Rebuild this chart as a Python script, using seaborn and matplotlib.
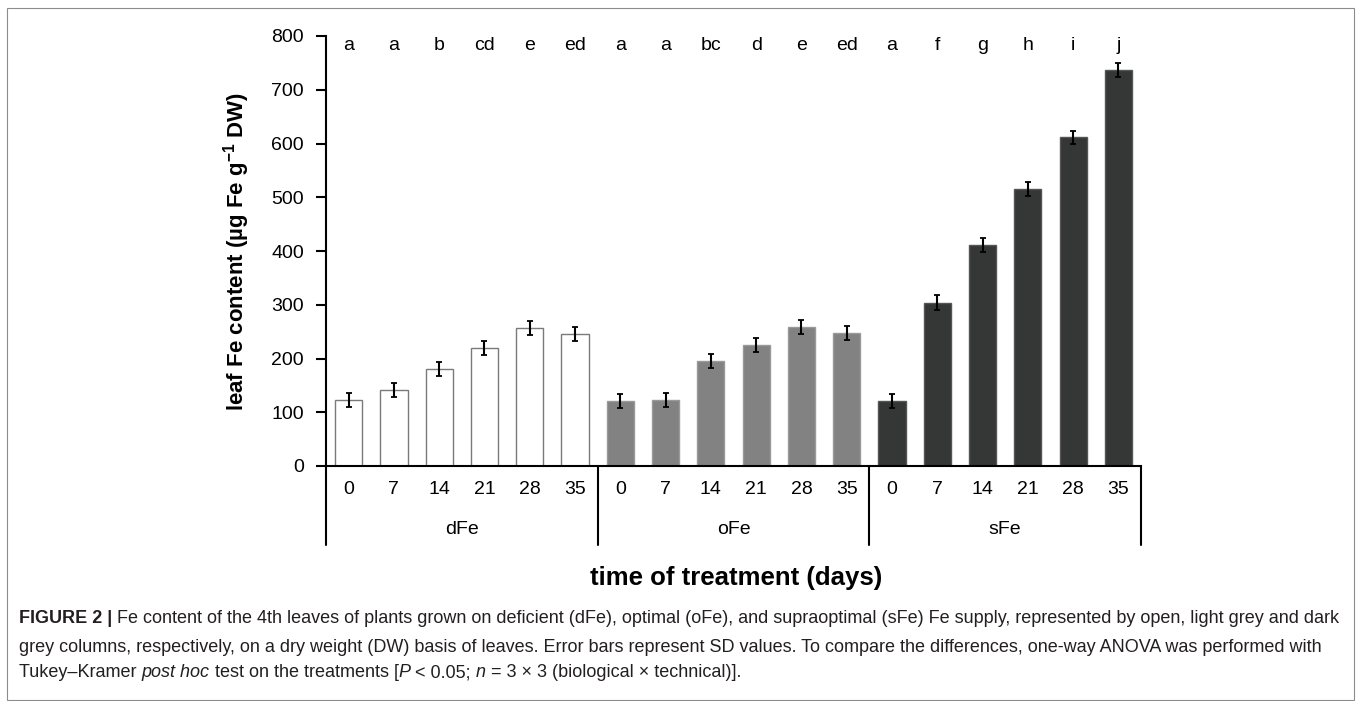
import matplotlib
matplotlib.use('Agg')
import matplotlib.pyplot as plt
import matplotlib.transforms as mtransforms
from matplotlib import font_manager
from matplotlib.patches import Rectangle
import pandas as pd
import seaborn as sns

# Data
supplies = ['dFe', 'oFe', 'sFe']
days = ['0', '7', '14', '21', '28', '35']
dfe_values = [122, 141, 180, 219, 257, 245]
ofe_values = [121, 122, 195, 226, 258, 247]
sfe_values = [121, 304, 412, 516, 612, 737]
dfe_sd = [13, 13, 13, 13, 13, 13]
ofe_sd = [13, 13, 13, 13, 13, 13]
sfe_sd = [13, 14, 13, 13, 12, 13]
letters = ['a', 'a', 'b', 'cd', 'e', 'ed',
           'a', 'a', 'bc', 'd', 'e', 'ed',
           'a', 'f', 'g', 'h', 'i', 'j']

bar_colors = {'dFe': 'white', 'oFe': '#828282', 'sFe': '#343736'}
edge_colors = {'dFe': '#7a7a7a', 'oFe': '#9a9a9a', 'sFe': '#555555'}

df = pd.DataFrame({
    'supply': [s for s in supplies for _ in days],
    'day': days * 3,
    'value': dfe_values + ofe_values + sfe_values,
    'sd': dfe_sd + ofe_sd + sfe_sd,
})
df['bar'] = df['supply'] + '-' + df['day']

sns.set_style('ticks')
plt.rcParams['font.family'] = ['Liberation Sans', 'DejaVu Sans']
plt.rcParams['mathtext.fontset'] = 'custom'
plt.rcParams['mathtext.rm'] = 'Liberation Sans'
plt.rcParams['mathtext.bf'] = 'Liberation Sans:bold'
plt.rcParams['mathtext.it'] = 'Liberation Sans:italic'
for key in ['text.color', 'axes.labelcolor', 'xtick.color', 'ytick.color', 'axes.edgecolor']:
    plt.rcParams[key] = 'black'

W, H = 1358, 701
fig = plt.figure(figsize=(W / 100, H / 100), dpi=100)
ax = fig.add_axes([326 / W, 1 - 466 / H, 815 / W, 430 / H])

sns.barplot(data=df, x='bar', y='value', hue='supply', order=list(df['bar']),
            palette=bar_colors, dodge=False, width=0.6, saturation=1,
            errorbar=None, legend=False, ax=ax)
for patch in ax.patches:
    fc = matplotlib.colors.to_hex(patch.get_facecolor())
    for s, c in bar_colors.items():
        if matplotlib.colors.to_hex(c) == fc:
            patch.set_edgecolor(edge_colors[s])
            patch.set_linewidth(1.0)

x = range(len(df))
ax.errorbar(x, df['value'], yerr=df['sd'], fmt='none', ecolor='black',
            elinewidth=1.5, capsize=2.5, capthick=1.3, zorder=5)

for i, lab in enumerate(letters):
    ax.text(i, 774, lab, ha='center', va='baseline', fontsize=14)

ax.set_xlim(-0.5, len(df) - 0.5)
ax.set_ylim(0, 800)
ax.set_yticks(range(0, 801, 100))
ax.set_xticks(list(x))
ax.set_xticklabels(df['day'])
ax.tick_params(axis='x', length=0, pad=11, labelsize=14)
ax.tick_params(axis='y', length=7, width=1.5, pad=9, labelsize=14, direction='out')
ax.set_xlabel('')
ax.set_ylabel(r'leaf Fe content (µg Fe g$^{\mathbf{-1}}$ DW)', fontsize=16,
              fontweight='bold', labelpad=14)
for side in ['top', 'right']:
    ax.spines[side].set_visible(False)
ax.spines['left'].set_linewidth(1.5)
ax.spines['bottom'].set_linewidth(1.5)

# group separators and group names below the axis
trans = mtransforms.blended_transform_factory(ax.transData, ax.transAxes)
low = -(545 - 466) / 430
for k in range(len(supplies) + 1):
    xs = k * len(days) - 0.5
    ax.plot([xs, xs], [0, low], color='black', lw=1.5, transform=trans, clip_on=False)
for k, s in enumerate(supplies):
    ax.text(k * len(days) + 2.5, -(529 - 466) / 430, s, transform=trans,
            ha='center', va='center', fontsize=14)

fig.text(736 / W, 1 - 578 / H, 'time of treatment (days)', ha='center', va='center',
         fontsize=18.5, fontweight='bold')

# caption
names = {f.name for f in font_manager.fontManager.ttflist}
cap_font = 'Liberation Sans Narrow' if 'Liberation Sans Narrow' in names else 'Liberation Sans'
renderer = fig.canvas.get_renderer()


def text_width(s, **kw):
    t = fig.text(0, 0, '|' + s + '|', **kw)
    t0 = fig.text(0, 0, '||', **kw)
    w = t.get_window_extent(renderer).width - t0.get_window_extent(renderer).width
    t.remove()
    t0.remove()
    return w


def style_kw(style, size):
    kw = dict(fontsize=size, family=[cap_font, 'DejaVu Sans'], color='#231f20')
    if style == 'b':
        kw['fontweight'] = 'bold'
    elif style == 'i':
        kw['fontstyle'] = 'italic'
    return kw


def caption_line(y_px, parts, size):
    xpos = 19
    for s, style in parts:
        kw = style_kw(style, size)
        fig.text(xpos / W, 1 - y_px / H, s, va='baseline', ha='left', **kw)
        xpos += text_width(s, **kw)


line1 = [('FIGURE 2 |', 'b'),
         (' Fe content of the 4th leaves of plants grown on deficient (dFe), optimal (oFe), '
          'and supraoptimal (sFe) Fe supply, represented by open, light grey and dark', 'n')]
line2 = [('grey columns, respectively, on a dry weight (DW) basis of leaves. Error bars represent SD '
          'values. To compare the differences, one-way ANOVA was performed with', 'n')]
line3 = [('Tukey\u2013Kramer ', 'n'), ('post hoc', 'i'), (' test on the treatments [', 'n'),
         ('P', 'i'), (' < 0.05; ', 'n'), ('n', 'i'),
         (' = 3 \u00d7 3 (biological \u00d7 technical)].', 'n')]

# size the caption so the first line spans the same width as in the figure
base = 10
w1 = sum(text_width(s, **style_kw(st, base)) for s, st in line1)
cap_size = base * (1345 - 19) / w1

caption_line(623, line1, cap_size)
caption_line(652, line2, cap_size)
caption_line(677, line3, cap_size)

fig.add_artist(Rectangle((7 / W, 1 / H), (1354 - 7) / W, (693 - 1) / H,
                         transform=fig.transFigure, fill=False,
                         edgecolor='#8c8c8c', linewidth=0.8))

fig.savefig('out.png', dpi=100)
